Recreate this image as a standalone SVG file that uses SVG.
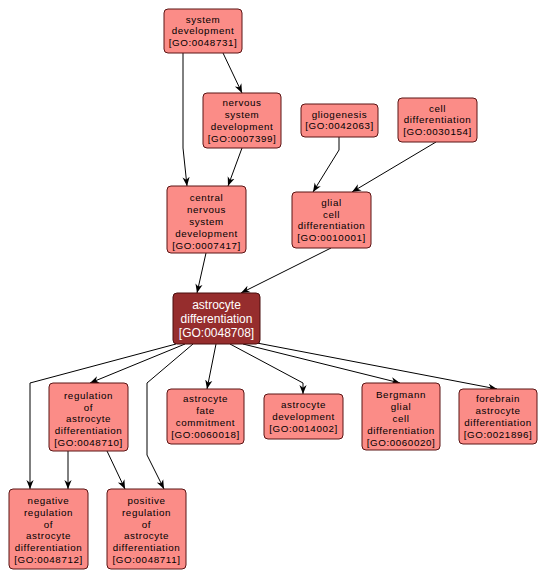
<svg xmlns="http://www.w3.org/2000/svg" width="547" height="580" viewBox="0 0 547 580">
<style>
.n rect{fill:#fb8c87;stroke:#5a1414;stroke-width:1}
.n text{font-family:"Liberation Sans",Arial,sans-serif;font-size:9.8px;letter-spacing:0.6px;fill:#000;text-anchor:middle}
.h rect{fill:#962d2d;stroke:#4a0e0e;stroke-width:1}
.h text{font-family:"Liberation Sans",Arial,sans-serif;font-size:12px;fill:#fff;text-anchor:middle}
.e path{fill:none;stroke:#000;stroke-width:1;marker-end:url(#ah)}
</style>
<defs>
<marker id="ah" viewBox="0 0 10 10" refX="10" refY="5" markerWidth="9" markerHeight="9" markerUnits="userSpaceOnUse" orient="auto">
<path d="M0,1 L10,5 L0,9 L3,5 Z" fill="#000"/>
</marker>
</defs>
<rect width="547" height="580" fill="#fff"/>
<g id="edges" class="e">
<path d="M183,53 L183,148 L187,186"/>
<path d="M223,53 L242,93"/>
<path d="M242,148 L228,186"/>
<path d="M339,137 L339,150 L313,192"/>
<path d="M436,142 L352,192"/>
<path d="M206,253 L197,293"/>
<path d="M331,248 L241,293"/>
<path d="M176,344 L30,383 L30,489"/>
<path d="M185,344 L90,383"/>
<path d="M68,451 L68,489"/>
<path d="M107,451 L125,489"/>
<path d="M193,344 L147,383 L147,455 L164,489"/>
<path d="M216,344 L207,389"/>
<path d="M230,344 L303,383 L303,394"/>
<path d="M243,344 L400,383"/>
<path d="M257,343 L497,389"/>
</g>
<g id="GO0048731" class="n"><rect x="164" y="9" width="78" height="44" rx="4"/>
<text x="203" y="22.6">system</text><text x="203" y="34.4">development</text><text x="203" y="46.2">[GO:0048731]</text></g>
<g id="GO0007399" class="n"><rect x="203" y="93" width="78" height="55" rx="4"/>
<text x="242" y="106.2">nervous</text><text x="242" y="118">system</text><text x="242" y="129.8">development</text><text x="242" y="141.6">[GO:0007399]</text></g>
<g id="GO0042063" class="n"><rect x="301" y="104" width="77" height="33" rx="4"/>
<text x="339.5" y="117.5">gliogenesis</text><text x="339.5" y="129.3">[GO:0042063]</text></g>
<g id="GO0030154" class="n"><rect x="398" y="98" width="79" height="44" rx="4"/>
<text x="437.5" y="111.6">cell</text><text x="437.5" y="123.4">differentiation</text><text x="437.5" y="135.2">[GO:0030154]</text></g>
<g id="GO0010001" class="n"><rect x="292" y="192" width="79" height="56" rx="4"/>
<text x="331.5" y="205.7">glial</text><text x="331.5" y="217.5">cell</text><text x="331.5" y="229.3">differentiation</text><text x="331.5" y="241.1">[GO:0010001]</text></g>
<g id="GO0007417" class="n"><rect x="167" y="186" width="79" height="67" rx="4"/>
<text x="206.5" y="201.3">central</text><text x="206.5" y="213.1">nervous</text><text x="206.5" y="224.9">system</text><text x="206.5" y="236.7">development</text><text x="206.5" y="248.5">[GO:0007417]</text></g>
<g id="GO0048708" class="h"><rect x="173" y="293" width="87" height="51" rx="4"/>
<text x="216.5" y="308.8">astrocyte</text><text x="216.5" y="322.8">differentiation</text><text x="216.5" y="336.8">[GO:0048708]</text></g>
<g id="GO0048710" class="n"><rect x="49" y="383" width="79" height="68" rx="4"/>
<text x="88.5" y="398.8">regulation</text><text x="88.5" y="410.6">of</text><text x="88.5" y="422.4">astrocyte</text><text x="88.5" y="434.2">differentiation</text><text x="88.5" y="446">[GO:0048710]</text></g>
<g id="GO0048712" class="n"><rect x="9" y="489" width="79" height="80" rx="4"/>
<text x="48.5" y="503.9">negative</text><text x="48.5" y="515.7">regulation</text><text x="48.5" y="527.5">of</text><text x="48.5" y="539.3">astrocyte</text><text x="48.5" y="551.1">differentiation</text><text x="48.5" y="562.9">[GO:0048712]</text></g>
<g id="GO0048711" class="n"><rect x="107" y="489" width="79" height="80" rx="4"/>
<text x="146.5" y="503.9">positive</text><text x="146.5" y="515.7">regulation</text><text x="146.5" y="527.5">of</text><text x="146.5" y="539.3">astrocyte</text><text x="146.5" y="551.1">differentiation</text><text x="146.5" y="562.9">[GO:0048711]</text></g>
<g id="GO0060018" class="n"><rect x="167" y="389" width="77" height="55" rx="4"/>
<text x="205.5" y="402.2">astrocyte</text><text x="205.5" y="414">fate</text><text x="205.5" y="425.8">commitment</text><text x="205.5" y="437.6">[GO:0060018]</text></g>
<g id="GO0014002" class="n"><rect x="264" y="394" width="79" height="45" rx="4"/>
<text x="303.5" y="408.1">astrocyte</text><text x="303.5" y="419.9">development</text><text x="303.5" y="431.7">[GO:0014002]</text></g>
<g id="GO0060020" class="n"><rect x="362" y="383" width="78" height="67" rx="4"/>
<text x="401" y="398.3">Bergmann</text><text x="401" y="410.1">glial</text><text x="401" y="421.9">cell</text><text x="401" y="433.7">differentiation</text><text x="401" y="445.5">[GO:0060020]</text></g>
<g id="GO0021896" class="n"><rect x="459" y="389" width="78" height="55" rx="4"/>
<text x="498" y="402.2">forebrain</text><text x="498" y="414">astrocyte</text><text x="498" y="425.8">differentiation</text><text x="498" y="437.6">[GO:0021896]</text></g>
</svg>
